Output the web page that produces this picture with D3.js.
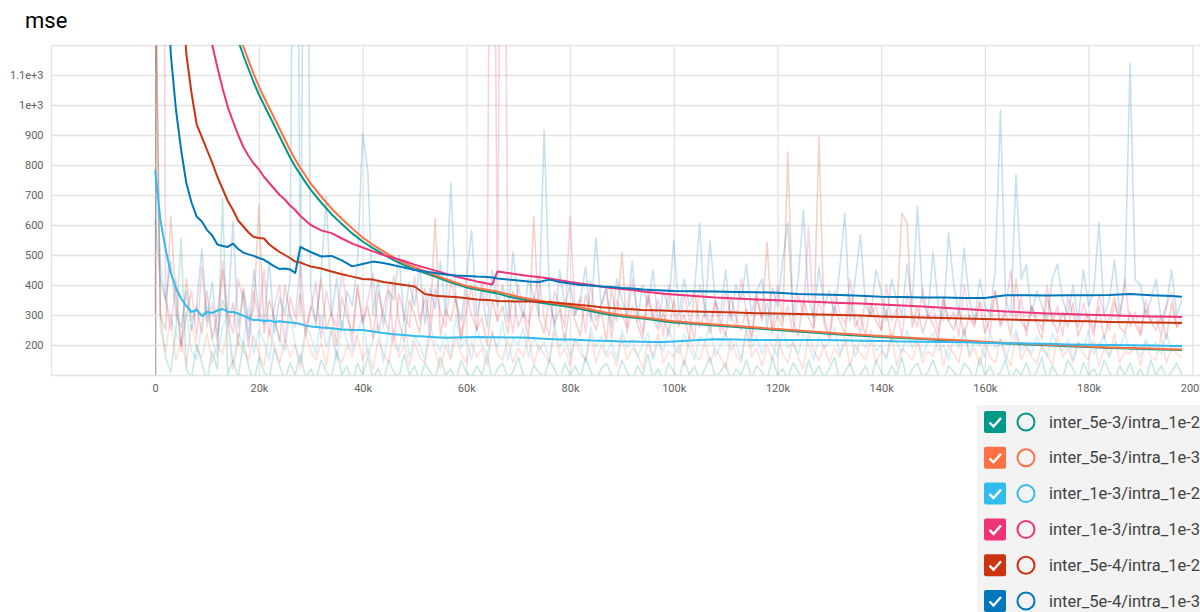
<!DOCTYPE html>
<html>
<head>
<meta charset="utf-8">
<script src="https://cdn.jsdelivr.net/npm/d3@7"></script>
<style>
  html, body { margin: 0; padding: 0; background: #ffffff; overflow: hidden; }
  svg { display: block; font-family: Roboto, "Noto Sans", sans-serif; }
</style>
</head>
<body>
<svg id="chart" width="1200" height="612"></svg>
<script>
// Run names, in legend order
const runs = [
  "inter_5e-3/intra_1e-2",
  "inter_5e-3/intra_1e-3",
  "inter_1e-3/intra_1e-2",
  "inter_1e-3/intra_1e-3",
  "inter_5e-4/intra_1e-2",
  "inter_5e-4/intra_1e-3"
];
const runColors = ["#009988", "#ff7043", "#33bbee", "#ee3377", "#cc3311", "#0077bb"];

// Axis ticks (steps in thousands)
const xTicks = [0, 20, 40, 60, 80, 100, 120, 140, 160, 180, 200];
const xTickLabels = ["0", "20k", "40k", "60k", "80k", "100k", "120k", "140k", "160k", "180k", "200k"];
const yTicks = [200, 300, 400, 500, 600, 700, 800, 900, 1000, 1100];
const yTickLabels = ["200", "300", "400", "500", "600", "700", "800", "900", "1e+3", "1.1e+3"];
const yBorders = [100, 1200];

// Smoothed curves: steps (thousands) and values
const smoothSteps = [
  0, 1, 2, 3, 4, 5, 6, 7, 8, 9, 10, 11, 12, 13, 14, 15, 16, 17, 18, 19, 20, 21, 22, 23, 24, 25, 26, 27, 28, 29, 30,
  32, 34, 36, 38, 40, 42, 44, 46, 48, 50, 52, 54, 56, 58, 60, 62, 64, 65,
  66, 68, 70, 72, 74, 76, 78, 80, 82, 84, 86, 88, 90, 92, 94, 96, 98, 100,
  104, 108, 112, 116, 120, 124, 128, 132, 136, 140, 144, 148, 152, 156, 160, 164, 168, 172, 176, 180, 184, 188, 192, 196, 198
];
const smoothTeal = [
  9000, 8000, 6500, 5000, 4000, 3300, 2800, 2450, 2150, 1950, 1780, 1640, 1520, 1420, 1340, 1270, 1215, 1165, 1120, 1075, 1035, 1000, 965, 930, 895, 860, 825, 795, 768, 742, 717,
  675, 636, 603, 572, 545, 523, 502, 483, 466, 452, 440, 428, 415, 403, 392, 385, 378, 375,
  372, 362, 355, 348, 342, 337, 332, 327, 320, 313, 306, 300, 296, 292, 288, 284, 279, 275,
  270, 265, 260, 255, 250, 245, 240, 235, 231, 227, 223, 220, 216, 213, 209, 205, 202, 199, 196, 193, 190, 188, 186, 184, 183
];
const smoothOrange = [
  9500, 8500, 7000, 5400, 4300, 3500, 2950, 2550, 2250, 2030, 1850, 1700, 1575, 1470, 1385, 1310, 1250, 1195, 1148, 1103, 1062, 1025, 990, 955, 920, 885, 850, 818, 790, 764, 738,
  695, 655, 620, 588, 558, 534, 512, 492, 474, 459, 446, 433, 420, 408, 397, 390, 384, 381,
  378, 369, 361, 354, 348, 342, 337, 332, 325, 318, 311, 305, 300, 296, 292, 288, 283, 279,
  273, 268, 263, 258, 253, 248, 243, 238, 234, 230, 226, 222, 218, 215, 211, 207, 204, 201, 198, 195, 192, 190, 188, 186, 185
];
const smoothCyan = [
  783, 617, 520, 440, 390, 355, 330, 310, 317, 297, 310, 307, 315, 320, 310, 310, 305, 298, 290, 283, 283, 280, 282, 277, 279, 277, 275, 273, 270, 265, 262,
  258, 256, 252, 250, 250, 245, 240, 236, 233, 230, 228, 226, 224, 225, 226, 227, 226, 226,
  226, 225, 225, 224, 222, 220, 218, 218, 217, 215, 214, 213, 212, 212, 211, 210, 210, 212,
  216, 219, 218, 217, 217, 217, 217, 216, 214, 213, 212, 211, 210, 209, 207, 206, 205, 204, 202, 201, 200, 199, 198, 197, 197
];
const smoothPink = [
  6000, 5000, 4000, 3200, 2600, 2150, 1800, 1590, 1460, 1360, 1275, 1200, 1125, 1055, 993, 945, 900, 860, 830, 805, 785, 760, 740, 720, 700, 685, 665, 650, 630, 615, 600,
  582, 573, 555, 538, 525, 512, 500, 490, 480, 468, 458, 448, 438, 428, 420, 412, 405, 402,
  445, 440, 435, 430, 427, 422, 416, 410, 405, 400, 395, 390, 387, 383, 378, 375, 371, 368,
  363, 358, 355, 352, 349, 346, 343, 340, 338, 335, 332, 328, 324, 320, 316, 312, 308, 305, 303, 301, 299, 297, 295, 294, 293
];
const smoothRed = [
  5000, 4000, 3100, 2400, 1850, 1450, 1170, 1040, 935, 893, 850, 807, 760, 720, 680, 650, 615, 595, 575, 560, 557, 555, 535, 522, 510, 500, 490, 478, 475, 468, 462,
  455, 445, 436, 428, 420, 418, 410, 405, 400, 395, 370, 364, 362, 360, 356, 352, 350, 349,
  347, 346, 345, 345, 344, 343, 340, 337, 333, 330, 326, 323, 321, 319, 317, 316, 315, 313,
  312, 310, 308, 306, 305, 303, 302, 300, 298, 295, 293, 292, 290, 288, 287, 285, 283, 282, 280, 279, 277, 276, 275, 274, 273
];
const smoothBlue = [
  4000, 2500, 1600, 1170, 985, 850, 740, 675, 628, 612, 583, 565, 535, 530, 527, 538, 520, 508, 502, 497, 490, 484, 473, 462, 453, 455, 452, 440, 527, 518, 510,
  495, 497, 482, 462, 470, 478, 473, 466, 458, 450, 445, 440, 435, 432, 430, 428, 427, 425,
  422, 418, 415, 412, 410, 418, 410, 405, 400, 398, 395, 393, 390, 388, 385, 383, 382, 380,
  379, 378, 377, 376, 374, 370, 368, 367, 364, 361, 360, 358, 358, 357, 357, 366, 366, 365, 366, 366, 367, 370, 366, 363, 361
];

// Raw logged values, one per 1k steps (0k .. 198k)
const rawSteps = [
  0, 1, 2, 3, 4, 5, 6, 7, 8, 9, 10, 11, 12, 13, 14, 15, 16, 17, 18, 19,
  20, 21, 22, 23, 24, 25, 26, 27, 28, 29, 30, 31, 32, 33, 34, 35, 36, 37, 38, 39,
  40, 41, 42, 43, 44, 45, 46, 47, 48, 49, 50, 51, 52, 53, 54, 55, 56, 57, 58, 59,
  60, 61, 62, 63, 64, 65, 66, 67, 68, 69, 70, 71, 72, 73, 74, 75, 76, 77, 78, 79,
  80, 81, 82, 83, 84, 85, 86, 87, 88, 89, 90, 91, 92, 93, 94, 95, 96, 97, 98, 99,
  100, 101, 102, 103, 104, 105, 106, 107, 108, 109, 110, 111, 112, 113, 114, 115, 116, 117, 118, 119,
  120, 121, 122, 123, 124, 125, 126, 127, 128, 129, 130, 131, 132, 133, 134, 135, 136, 137, 138, 139,
  140, 141, 142, 143, 144, 145, 146, 147, 148, 149, 150, 151, 152, 153, 154, 155, 156, 157, 158, 159,
  160, 161, 162, 163, 164, 165, 166, 167, 168, 169, 170, 171, 172, 173, 174, 175, 176, 177, 178, 179,
  180, 181, 182, 183, 184, 185, 186, 187, 188, 189, 190, 191, 192, 193, 194, 195, 196, 197, 198
];
const rawTeal = [
  1500, 300, 160, 110, 250, 555, 120, 90, 200, 140, 80, 180, 120, 690, 100, 150, 90, 210, 130, 70,
  160, 110, 90, 190, 130, 80, 140, 100, 170, 90, 120, 80, 150, 110, 90, 180, 100, 130, 70, 140,
  100, 160, 90, 120, 80, 150, 110, 90, 170, 100, 130, 80, 140, 110, 90, 160, 100, 120, 80, 150,
  110, 90, 130, 100, 170, 80, 120, 140, 90, 110, 160, 100, 80, 130, 110, 90, 150, 120, 80, 140,
  100, 130, 90, 160, 110, 80, 120, 140, 100, 90, 150, 110, 80, 130, 100, 170, 90, 120, 80, 140,
  110, 90, 150, 100, 130, 80, 120, 160, 90, 110, 140, 80, 120, 100, 150, 90, 130, 110, 80, 160,
  100, 120, 90, 140, 110, 80, 150, 100, 130, 90, 120, 160, 80, 110, 140, 90, 100, 130, 80, 150,
  110, 90, 130, 100, 160, 80, 120, 140, 90, 110, 150, 100, 80, 130, 110, 90, 140, 120, 80, 160,
  100, 130, 90, 110, 150, 80, 120, 100, 140, 90, 110, 160, 80, 130, 100, 90, 150, 120, 80, 140,
  100, 120, 90, 150, 110, 80, 130, 100, 140, 90, 120, 80, 150, 100, 130, 90, 110, 140, 100
];
const rawOrange = [
  1500, 250, 180, 300, 150, 220, 130, 270, 190, 160, 240, 140, 200, 170, 260, 120, 210, 180, 150, 230,
  170, 130, 250, 190, 140, 220, 160, 200, 120, 240, 180, 150, 210, 130, 260, 170, 140, 200, 160, 230,
  150, 190, 120, 220, 170, 140, 250, 160, 200, 130, 210, 160, 140, 240, 180, 120, 200, 150, 230, 170,
  140, 210, 160, 190, 130, 250, 170, 150, 220, 140, 190, 160, 230, 130, 200, 170, 140, 250, 160, 190,
  130, 220, 170, 150, 240, 140, 200, 160, 180, 130, 230, 150, 190, 170, 120, 210, 160, 240, 140, 180,
  160, 200, 130, 230, 170, 150, 210, 140, 190, 160, 120, 220, 170, 140, 250, 160, 190, 130, 200, 150,
  230, 170, 140, 210, 160, 120, 240, 180, 150, 200, 140, 190, 160, 230, 130, 200, 170, 150, 220, 140,
  180, 160, 240, 130, 190, 170, 150, 210, 140, 180, 160, 230, 130, 200, 170, 140, 250, 160, 190, 130,
  210, 160, 140, 220, 170, 130, 240, 150, 190, 160, 140, 200, 170, 130, 230, 160, 190, 140, 210, 170,
  150, 220, 130, 190, 160, 240, 140, 180, 170, 200, 130, 210, 160, 150, 230, 140, 190, 170, 160
];
const rawCyan = [
  783, 480, 350, 290, 240, 200, 310, 180, 150, 280, 330, 220, 160, 260, 300, 140, 240, 200, 330, 170,
  250, 210, 150, 290, 220, 180, 310, 200, 140, 260, 230, 170, 300, 190, 250, 150, 280, 210, 180, 240,
  300, 160, 220, 270, 140, 250, 200, 180, 290, 160, 230, 200, 150, 270, 210, 180, 240, 160, 300, 190,
  220, 150, 260, 200, 170, 240, 190, 280, 150, 220, 200, 260, 160, 230, 180, 210, 150, 270, 190, 240,
  160, 220, 200, 140, 260, 190, 230, 170, 210, 150, 250, 190, 220, 160, 200, 240, 150, 210, 180, 260,
  200, 170, 240, 190, 150, 230, 210, 270, 160, 200, 240, 180, 210, 150, 260, 190, 230, 170, 220, 200,
  160, 250, 190, 210, 170, 240, 200, 150, 230, 190, 210, 260, 170, 200, 240, 160, 220, 190, 250, 180,
  200, 150, 230, 210, 170, 250, 190, 220, 160, 210, 240, 180, 200, 150, 230, 190, 260, 170, 210, 200,
  160, 240, 190, 220, 150, 210, 250, 180, 200, 170, 230, 190, 160, 240, 200, 180, 220, 150, 210, 190,
  250, 170, 200, 230, 160, 210, 190, 240, 180, 200, 160, 220, 190, 210, 170, 240, 180, 200, 190
];
const rawPink = [
  300, 5000, 350, 250, 420, 180, 300, 380, 220, 460, 260, 340, 200, 480, 300, 240, 420, 350, 190, 380,
  280, 450, 230, 330, 400, 210, 360, 290, 470, 250, 320, 410, 220, 380, 300, 260, 450, 330, 200, 390,
  280, 350, 440, 240, 320, 400, 210, 370, 300, 260, 430, 280, 350, 230, 390, 310, 260, 420, 340, 220,
  380, 300, 250, 410, 330, 3000, 280, 3000, 360, 240, 400, 310, 270, 350, 430, 290, 230, 380, 330, 260,
  627, 300, 360, 240, 410, 280, 330, 390, 220, 350, 300, 260, 420, 310, 240, 380, 290, 350, 230, 400,
  310, 260, 370, 290, 220, 400, 330, 270, 350, 240, 380, 300, 260, 420, 310, 230, 360, 290, 340, 250,
  400, 280, 330, 240, 370, 300, 593, 260, 350, 290, 230, 380, 310, 270, 420, 290, 240, 360, 300, 330,
  250, 400, 280, 320, 230, 370, 300, 260, 390, 290, 330, 240, 360, 280, 310, 230, 400, 290, 260, 350,
  300, 240, 380, 270, 320, 450, 280, 360, 230, 330, 290, 250, 400, 270, 330, 230, 360, 300, 260, 340,
  280, 230, 370, 300, 250, 340, 290, 420, 260, 310, 240, 350, 280, 300, 230, 330, 377, 260, 300
];
const rawRed = [
  1500, 300, 250, 627, 350, 200, 420, 280, 330, 240, 380, 220, 300, 450, 260, 340, 200, 390, 280, 320,
  667, 240, 350, 290, 210, 400, 300, 260, 370, 230, 330, 280, 420, 250, 310, 200, 360, 290, 240, 400,
  270, 330, 220, 380, 300, 250, 430, 280, 210, 350, 300, 240, 390, 270, 623, 230, 320, 280, 360, 220,
  310, 400, 250, 290, 200, 350, 280, 330, 240, 380, 260, 310, 220, 627, 290, 240, 350, 270, 320, 210,
  340, 280, 230, 370, 300, 250, 320, 210, 390, 280, 510, 240, 330, 270, 220, 360, 290, 250, 310, 230,
  350, 270, 300, 220, 380, 260, 310, 240, 340, 280, 230, 360, 290, 250, 320, 210, 370, 280, 543, 240,
  300, 260, 843, 280, 230, 350, 290, 250, 893, 270, 220, 330, 280, 240, 360, 260, 300, 230, 340, 280,
  250, 320, 210, 290, 640, 607, 260, 330, 240, 300, 270, 220, 350, 280, 250, 320, 230, 300, 270, 340,
  240, 290, 380, 260, 310, 230, 420, 280, 250, 330, 270, 220, 360, 290, 240, 310, 260, 340, 230, 280,
  300, 250, 330, 220, 290, 360, 260, 240, 310, 270, 230, 320, 280, 250, 300, 220, 340, 260, 280
];
const rawBlue = [
  620, 420, 350, 480, 300, 260, 380, 250, 330, 520, 280, 410, 230, 350, 300, 610, 260, 380, 220, 450,
  310, 270, 480, 240, 360, 300, 420, 3000, 300, 2600, 380, 260, 440, 693, 300, 420, 250, 380, 330, 470,
  905, 780, 300, 420, 260, 380, 350, 500, 280, 410, 330, 460, 270, 390, 320, 480, 300, 740, 350, 280,
  420, 583, 300, 380, 260, 450, 330, 400, 280, 510, 350, 290, 420, 360, 300, 917, 380, 260, 450, 330,
  400, 300, 350, 460, 280, 557, 330, 390, 260, 420, 350, 300, 480, 280, 400, 330, 450, 270, 380, 320,
  550, 300, 420, 330, 380, 607, 290, 550, 350, 300, 450, 280, 400, 350, 470, 300, 380, 420, 260, 390,
  330, 480, 607, 300, 420, 650, 350, 290, 460, 330, 380, 300, 450, 640, 280, 420, 567, 330, 300, 450,
  380, 280, 420, 350, 300, 470, 330, 663, 350, 300, 510, 330, 280, 573, 400, 300, 523, 350, 280, 420,
  330, 300, 450, 983, 350, 300, 767, 420, 467, 300, 380, 330, 280, 420, 470, 350, 300, 400, 280, 450,
  330, 380, 607, 300, 350, 483, 300, 400, 1140, 417, 400, 300, 350, 420, 280, 330, 450, 300, 350
];

const smoothSeries = [smoothTeal, smoothOrange, smoothCyan, smoothPink, smoothRed, smoothBlue];
const rawSeries = [rawTeal, rawOrange, rawCyan, rawPink, rawRed, rawBlue];

// ---- layout ----
const svg = d3.select("#chart");
const plot = { left: 51.5, right: 1296, top: 45, bottom: 375 };

const x = d3.scaleLinear().domain([-20, 220]).range([plot.left, plot.right]);
const y = d3.scaleLinear().domain([100, 1200]).range([plot.bottom, plot.top]);

// title
svg.append("text")
  .attr("x", 25).attr("y", 28)
  .attr("font-size", 22)
  .attr("fill", "#000")
  .text("mse");

// grid
const grid = svg.append("g");
grid.append("g")
  .attr("transform", `translate(0,${plot.bottom})`)
  .call(d3.axisBottom(x).tickValues(xTicks).tickSize(-(plot.bottom - plot.top)).tickFormat(""))
  .call(g => g.select(".domain").remove())
  .call(g => g.selectAll("line").attr("stroke", "#e3e3e3").attr("stroke-width", 1.3)
    .attr("stroke", d => d === 0 ? "#a8a8a8" : "#e3e3e3"));
grid.append("g")
  .attr("transform", `translate(${plot.left},0)`)
  .call(d3.axisLeft(y).tickValues(yTicks.concat(yBorders)).tickSize(-(plot.right - plot.left)).tickFormat(""))
  .call(g => g.select(".domain").remove())
  .call(g => g.selectAll("line").attr("stroke", "#e3e3e3").attr("stroke-width", 1.3));
grid.append("line")
  .attr("x1", plot.left).attr("x2", plot.left)
  .attr("y1", plot.top).attr("y2", plot.bottom)
  .attr("stroke", "#e3e3e3").attr("stroke-width", 1.3);

// axes labels
const xAxis = svg.append("g")
  .attr("transform", `translate(0,${plot.bottom})`)
  .call(d3.axisBottom(x).tickValues(xTicks).tickSize(0).tickPadding(9)
    .tickFormat((d, i) => xTickLabels[i]));
xAxis.select(".domain").remove();
xAxis.selectAll("text").attr("font-size", 11).attr("fill", "#616161")
  .attr("font-family", "Roboto, sans-serif");

const yAxis = svg.append("g")
  .attr("transform", `translate(${plot.left - 8},0)`)
  .call(d3.axisLeft(y).tickValues(yTicks).tickSize(0).tickPadding(0)
    .tickFormat((d, i) => yTickLabels[i]));
yAxis.select(".domain").remove();
yAxis.selectAll("text").attr("font-size", 11).attr("fill", "#616161")
  .attr("font-family", "Roboto, sans-serif");

// series
svg.append("clipPath").attr("id", "plot-clip")
  .append("rect")
  .attr("x", plot.left).attr("y", plot.top)
  .attr("width", plot.right - plot.left).attr("height", plot.bottom - plot.top);

const lines = svg.append("g").attr("clip-path", "url(#plot-clip)");

const rawLine = d3.line().x((d, i) => x(rawSteps[i])).y(d => y(d));
const smoothLine = d3.line().x((d, i) => x(smoothSteps[i])).y(d => y(d));

lines.selectAll(".raw")
  .data(rawSeries)
  .join("path")
  .attr("class", "raw")
  .attr("d", rawLine)
  .attr("fill", "none")
  .attr("stroke", (d, i) => runColors[i])
  .attr("stroke-opacity", 0.22)
  .attr("stroke-width", 1.6)
  .attr("stroke-linejoin", "round");

lines.selectAll(".smooth")
  .data(smoothSeries)
  .join("path")
  .attr("class", "smooth")
  .attr("d", smoothLine)
  .attr("fill", "none")
  .attr("stroke", (d, i) => runColors[i])
  .attr("stroke-width", 2)
  .attr("stroke-linejoin", "round");

// legend
const legend = svg.append("g");
legend.append("rect")
  .attr("x", 977).attr("y", 405)
  .attr("width", 223).attr("height", 207)
  .attr("fill", "#f3f3f3");

const rowY = d3.scalePoint().domain(runs).range([422, 601]);
const rows = legend.selectAll(".row")
  .data(runs)
  .join("g")
  .attr("class", "row")
  .attr("transform", d => `translate(0,${rowY(d)})`);

rows.append("rect")
  .attr("x", 984).attr("y", -11)
  .attr("width", 22).attr("height", 22)
  .attr("rx", 2)
  .attr("fill", (d, i) => runColors[i]);
rows.append("path")
  .attr("d", "M989.5,0.5 L993.5,4.5 L1001,-4")
  .attr("fill", "none")
  .attr("stroke", "#fff")
  .attr("stroke-width", 2.4);
rows.append("circle")
  .attr("cx", 1026).attr("cy", 0).attr("r", 8.5)
  .attr("fill", "none")
  .attr("stroke", (d, i) => runColors[i])
  .attr("stroke-width", 2);
rows.append("text")
  .attr("x", 1049).attr("y", 5.5)
  .attr("font-size", 16.5)
  .attr("fill", "#424242")
  .text(d => d);
</script>
</body>
</html>
